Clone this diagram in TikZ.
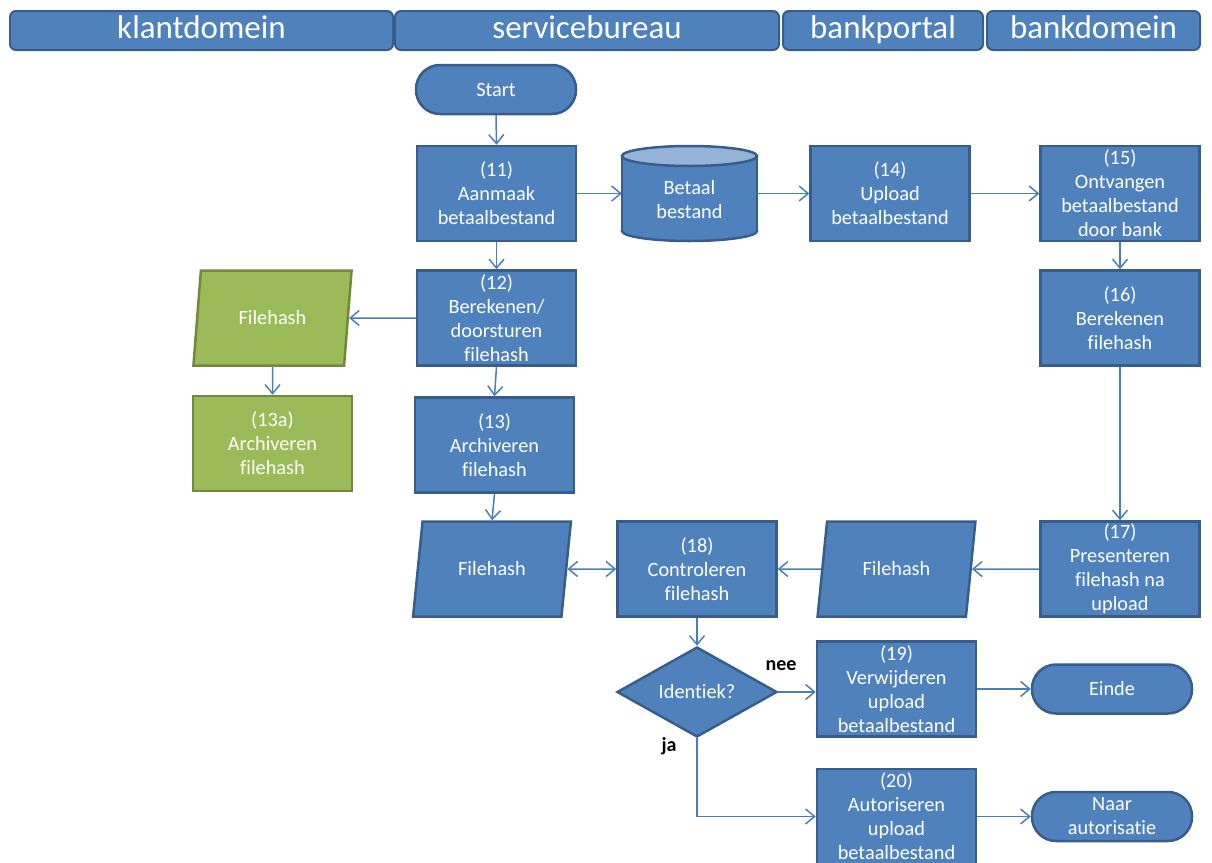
\documentclass[tikz,border=0pt]{standalone}
\usepackage{fontspec}
\setmainfont{Carlito}[Ligatures=NoCommon]
\usetikzlibrary{shapes.geometric,arrows.meta}
\definecolor{bfill}{HTML}{4F81BD}
\definecolor{bline}{HTML}{385D8A}
\definecolor{gfill}{HTML}{9BBB59}
\definecolor{gline}{HTML}{71893F}
\definecolor{conn}{HTML}{4A7EBB}
\definecolor{ctop}{HTML}{95B3D7}
\tikzset{
  base/.style={draw=bline, line width=2.5pt, fill=bfill, text=white, align=center, inner sep=0pt,
    font=\fontsize{20.3}{24}\selectfont},
  proc/.style={base, rectangle, minimum width=159pt, minimum height=95pt},
  gproc/.style={proc, fill=gfill, draw=gline},
  term/.style={base, rectangle, rounded corners=24pt, minimum width=160pt, minimum height=49pt},
  data/.style={base, trapezium, trapezium left angle=72, trapezium right angle=108, trapezium stretches=true,
    minimum width=159pt, minimum height=95pt},
  gdata/.style={data, fill=gfill, draw=gline, trapezium left angle=76, trapezium right angle=104},
  dec/.style={base, diamond, aspect=1.78, minimum width=160pt, minimum height=90pt},
  lane/.style={draw=bline, line width=2pt, fill=bfill, text=white, rounded corners=6pt,
    minimum height=39pt, inner sep=0pt, text height=23pt, text depth=7pt, font=\fontsize{33}{40}\selectfont},
  arr/.style={draw=conn, line width=1.5pt, -{Straight Barb[length=9pt,width=15pt]}},
  darr/.style={draw=conn, line width=1.5pt, {Straight Barb[length=9pt,width=15pt]}-{Straight Barb[length=9pt,width=15pt]}},
  lbl/.style={font=\fontsize{20}{24}\selectfont\bfseries, text=black}
}
\begin{document}
\begin{tikzpicture}[x=1pt,y=-1pt]
\useasboundingbox (0,0) rectangle (1212,862);
% lanes
\node[lane, minimum width=383pt] (l1) at (201.5,30.5) {klantdomein};
\node[lane, minimum width=384pt] (l2) at (587,30.5) {servicebureau};
\node[lane, minimum width=200pt] (l3) at (883,30.5) {bankportal};
\node[lane, minimum width=213pt] (l4) at (1093.5,30.5) {bankdomein};
% nodes
\node[term] (start) at (496,89.5) {Start};
\node[proc] (n11) at (496.5,193.5) {(11)\\Aanmaak\\betaalbestand};
% cylinder
\fill[bfill, draw=bline, line width=2.5pt] (689.5,231) ellipse [x radius=67.5, y radius=10];
\fill[bfill] (622,156) rectangle (757,231);
\draw[bline, line width=2.5pt] (622,156) -- (622,231) (757,156) -- (757,231);
\fill[ctop, draw=bline, line width=2.5pt] (689.5,156) ellipse [x radius=67.5, y radius=10];
\node[rectangle, minimum width=135pt, minimum height=95pt, inner sep=0pt] (cyl) at (689.5,193.5) {};
\node[text=white, align=center, font=\fontsize{20.3}{24}\selectfont] (cyltxt) at (689.5,200) {Betaal\\bestand};
\node[proc] (n14) at (890,193.5) {(14)\\Upload\\betaalbestand};
\node[proc] (n15) at (1120,193.5) {(15)\\Ontvangen\\betaalbestand\\door bank};
\node[proc] (n12) at (496.5,318) {(12)\\Berekenen/\\doorsturen\\filehash};
\node[gdata] (fhg) at (272.5,318) {Filehash};
\node[gproc] (n13a) at (272.5,443.5) {(13a)\\Archiveren\\filehash};
\node[proc] (n13) at (494.5,445) {(13)\\Archiveren\\filehash};
\node[proc] (n16) at (1120,318) {(16)\\Berekenen\\filehash};
\node[data] (fhl) at (492,569) {Filehash};
\node[proc] (n18) at (697,569) {(18)\\Controleren\\filehash};
\node[data] (fhr) at (896.5,569) {Filehash};
\node[proc] (n17) at (1120,569) {(17)\\Presenteren\\filehash na\\upload};
\node[dec] (dia) at (697,692) {Identiek?};
\node[proc] (n19) at (896.5,689) {(19)\\Verwijderen\\upload\\betaalbestand};
\node[term] (einde) at (1112,689) {Einde};
\node[proc] (n20) at (896.5,816.5) {(20)\\Autoriseren\\upload\\betaalbestand};
\node[term] (naar) at (1112,816.5) {Naar\\autorisatie};
% connectors
\draw[arr] (start.south) -- (n11.north);
\draw[arr] (n11.east) -- (cyl.west);
\draw[arr] (cyl.east) -- (n14.west);
\draw[arr] (n14.east) -- (n15.west);
\draw[arr] (n11.south) -- (n12.north);
\draw[arr] (n12.west) -- (fhg.east);
\draw[arr] (fhg.south) -- (n13a.north);
\draw[arr] (n12.south) -- (n13.north);
\draw[arr] (n13.south) -- (fhl.north);
\draw[darr] (fhl.east) -- (n18.west);
\draw[arr] (n15.south) -- (n16.north);
\draw[arr] (n16.south) -- (n17.north);
\draw[arr] (n17.west) -- (fhr.east);
\draw[arr] (fhr.west) -- (n18.east);
\draw[arr] (n18.south) -- (dia.north);
\draw[arr] (dia.east) -- (n19.west |- dia.east);
\draw[arr] (dia.south) |- (n20.west);
\draw[arr] (n19.east) -- (einde.west);
\draw[arr] (n20.east) -- (naar.west);
\node[lbl] (nee) at (781,666) {nee};
\node[lbl] (ja) at (669,746) {ja};
\end{tikzpicture}
\end{document}
